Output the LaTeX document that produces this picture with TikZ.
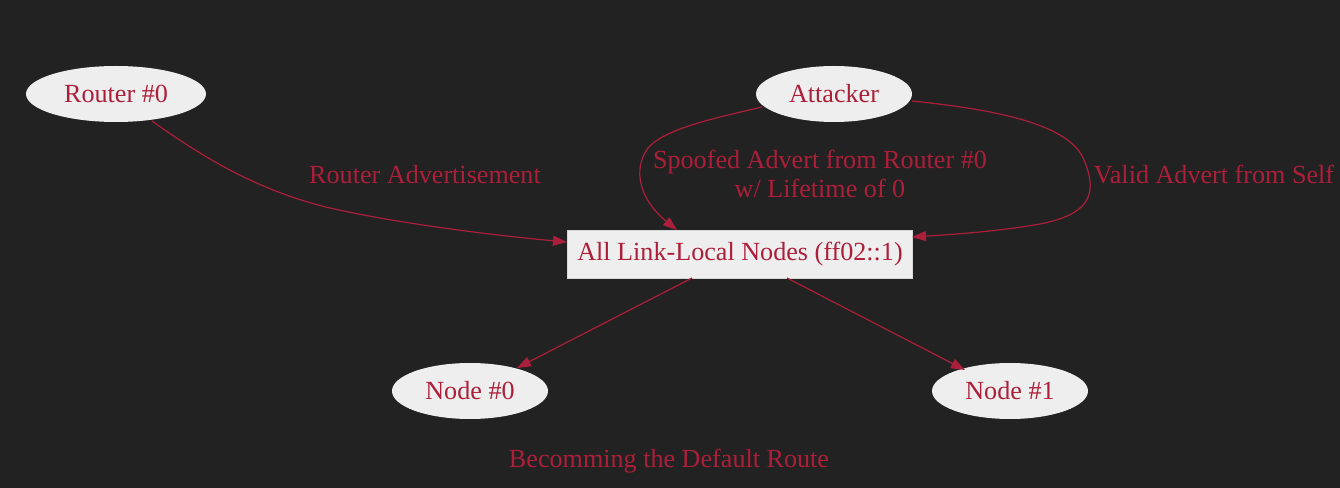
\documentclass[tikz,border=0pt]{standalone}
\usepackage{fontspec}
\setmainfont{Liberation Serif}
\usetikzlibrary{shapes.geometric,arrows.meta}
\definecolor{bg}{HTML}{222222}
\definecolor{nodefill}{HTML}{EEEEEE}
\definecolor{ink}{HTML}{AC1F3A}
\begin{document}
\begin{tikzpicture}[x=0.75pt,y=-0.75pt,
  every node/.style={font=\fontsize{19.6pt}{23pt}\selectfont, text=ink},
  ell/.style={ellipse, fill=nodefill, inner sep=0pt, minimum width=#1, minimum height=42pt},
  boxn/.style={rectangle, fill=nodefill, draw=nodefill!80!gray, inner sep=0pt, minimum width=258.75pt, minimum height=36pt},
  conn/.style={draw=ink, line width=0.9pt, -{Triangle[length=10.5pt,width=7.5pt]}},
  lbl/.style={align=center, inner sep=0pt}]
\fill[bg] (0,0) rectangle (1340,488);
\useasboundingbox (0,0) rectangle (1340,488);
\node[ell=135pt] (r0) at (116,94) {Router \#0};
\node[ell=117pt] (att) at (834,94) {Attacker};
\node[boxn] (all) at (740,254) {All Link-Local Nodes (ff02::1)};
\node[ell=117pt] (n0) at (470,391) {Node \#0};
\node[ell=117pt] (n1) at (1010,391) {Node \#1};
\node[lbl] (t) at (669,461) {Becomming the Default Route};
\node[lbl] (l1) at (425,175) {Router Advertisement};
\node[lbl, font=\fontsize{19.6pt}{21.5pt}\selectfont] (l2) at (820,174) {Spoofed Advert from Router \#0\\w/ Lifetime of 0};
\node[lbl] (l3) at (1214,175) {Valid Advert from Self};
\coordinate (s1) at (152,121);
\coordinate (e1) at (567,242);
\coordinate (s2) at (762,107);
\coordinate (e2) at (677,230);
\coordinate (s3) at (912,101);
\coordinate (e3) at (912,237);
\coordinate (s4) at (692,278);
\coordinate (e4) at (517,368);
\coordinate (s5) at (787,278);
\coordinate (e5) at (965,370);
\draw[conn] (s1) .. controls (200,155) and (255,190) .. (330,208)
  .. controls (400,224) and (500,236) .. (e1);
\draw[conn] (s2) .. controls (720,117) and (665,128) .. (648,148)
  .. controls (632,170) and (640,200) .. (e2);
\draw[conn] (s3) .. controls (1000,110) and (1070,125) .. (1084,160)
  .. controls (1100,198) and (1085,215) .. (1040,224)
  .. controls (1000,231) and (960,234) .. (e3);
\draw[conn] (s4) -- (e4);
\draw[conn] (s5) -- (e5);
\end{tikzpicture}
\end{document}
